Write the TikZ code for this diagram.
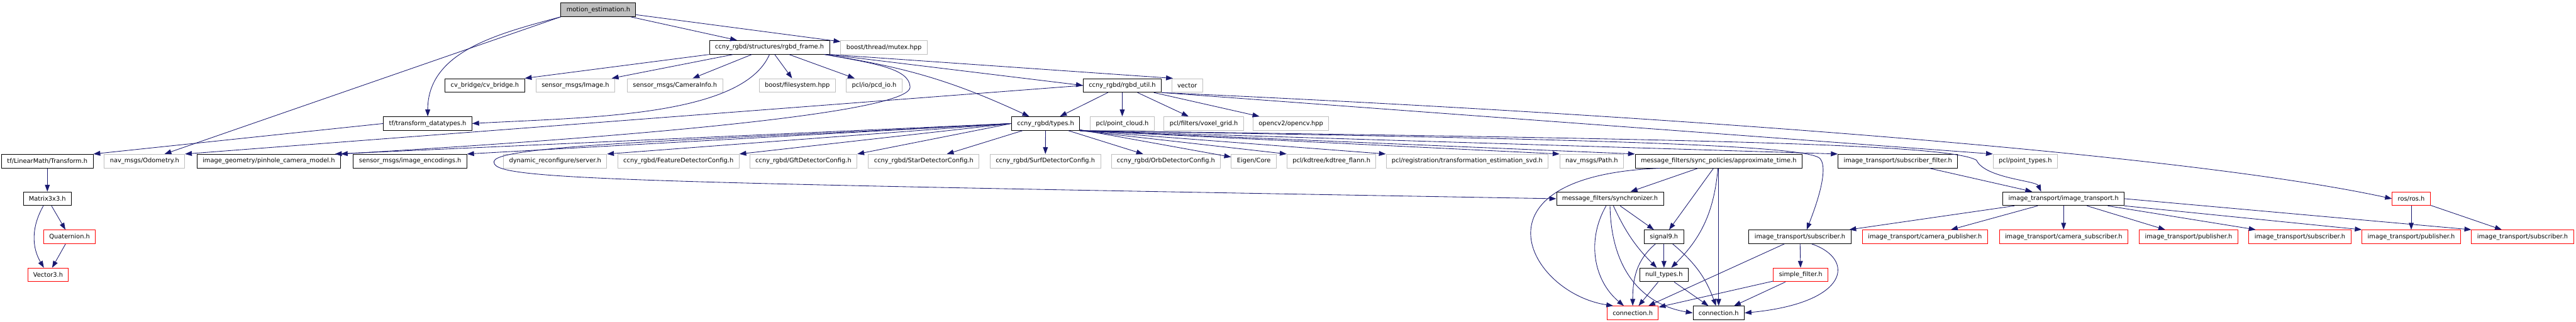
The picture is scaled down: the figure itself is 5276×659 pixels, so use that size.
\documentclass[tikz,border=0pt]{standalone}
\usepackage{fontspec}
\setmainfont{DejaVu Sans}
\usetikzlibrary{arrows.meta}
\definecolor{edgeblue}{HTML}{191970}
\definecolor{rootgray}{HTML}{BFBFBF}
\definecolor{extgray}{HTML}{BFBFBF}
\definecolor{cutred}{HTML}{FF0000}

\begin{document}
\begin{tikzpicture}[
  x=1pt, y=1pt,
  >={Triangle[length=14pt, width=10pt]},
  every node/.style={font=\fontsize{12.7pt}{15pt}\selectfont},
  % Node styles
  file/.style     = {rectangle, line width=1.2pt, minimum height=28pt,
                     inner xsep=11.5pt, inner ysep=0pt},
  rootfile/.style = {file, draw=black, fill=rootgray},
  docfile/.style  = {file, draw=black},
  extfile/.style  = {file, draw=extgray},
  cutfile/.style  = {file, draw=cutred},
  % Arrow style
  dep/.style      = {->, line width=1.1pt, edgeblue}
]
\fill[white] (0,0) rectangle (5276,-659);
\useasboundingbox (0,0) rectangle (5276,-659);

% =========================== ROOT AND FIRST LEVELS ===========================
\node[rootfile] (Me)       at (1225.5, -20) {motion\_estimation.h};

\node[docfile]  (Frame)    at (1576,   -97) {ccny\_rgbd/structures/rgbd\_frame.h};
\node[extfile]  (Mutex)    at (1810.5, -97) {boost/thread/mutex.hpp};

\node[docfile]  (CvBridge) at (993,   -175) {cv\_bridge/cv\_bridge.h};
\node[extfile]  (Image)    at (1178.5,-175) {sensor\_msgs/Image.h};
\node[extfile]  (CamInfo)  at (1382.5,-175) {sensor\_msgs/CameraInfo.h};
\node[extfile]  (FileSys)  at (1633,  -175) {boost/filesystem.hpp};
\node[extfile]  (PcdIo)    at (1790.5,-175) {pcl/io/pcd\_io.h};
\node[docfile]  (Util)     at (2298.5,-175) {ccny\_rgbd/rgbd\_util.h};
\node[extfile]  (Vector)   at (2431.5,-175) {vector};

\node[docfile]  (TfData)   at (876,   -253) {tf/transform\_datatypes.h};
\node[docfile]  (Types)    at (2141.5,-253) {ccny\_rgbd/types.h};
\node[extfile]  (PCloud)   at (2298.5,-253) {pcl/point\_cloud.h};
\node[extfile]  (Voxel)    at (2465.5,-253) {pcl/filters/voxel\_grid.h};
\node[extfile]  (OpenCV)   at (2644,  -253) {opencv2/opencv.hpp};

% =========================== WIDE ROW ===========================
\node[docfile]  (Transform) at (97,    -330) {tf/LinearMath/Transform.h};
\node[extfile]  (Odom)      at (296,   -330) {nav\_msgs/Odometry.h};
\node[docfile]  (Pinhole)   at (550.5, -330) {image\_geometry/pinhole\_camera\_model.h};
\node[docfile]  (Enc)       at (840,   -330) {sensor\_msgs/image\_encodings.h};
\node[extfile]  (DynSrv)    at (1137,  -330) {dynamic\_reconfigure/server.h};
\node[extfile]  (FeatCfg)   at (1389.5,-330) {ccny\_rgbd/FeatureDetectorConfig.h};
\node[extfile]  (GftCfg)    at (1645.5,-330) {ccny\_rgbd/GftDetectorConfig.h};
\node[extfile]  (StarCfg)   at (1892,  -330) {ccny\_rgbd/StarDetectorConfig.h};
\node[extfile]  (SurfCfg)   at (2141,  -330) {ccny\_rgbd/SurfDetectorConfig.h};
\node[extfile]  (OrbCfg)    at (2388,  -330) {ccny\_rgbd/OrbDetectorConfig.h};
\node[extfile]  (Eigen)     at (2568,  -330) {Eigen/Core};
\node[extfile]  (KdTree)    at (2727,  -330) {pcl/kdtree/kdtree\_flann.h};
\node[extfile]  (Svd)       at (3005,  -330) {pcl/registration/transformation\_estimation\_svd.h};
\node[extfile]  (Path)      at (3260,  -330) {nav\_msgs/Path.h};
\node[docfile]  (Approx)    at (3520,  -330) {message\_filters/sync\_policies/approximate\_time.h};
\node[docfile]  (SubFilter) at (3887,  -330) {image\_transport/subscriber\_filter.h};
\node[extfile]  (PTypes)    at (4148,  -330) {pcl/point\_types.h};

% =========================== LOWER LEVELS ===========================
\node[docfile]  (Matrix)  at (97,    -407) {Matrix3x3.h};
\node[docfile]  (Sync)    at (3297.5,-407) {message\_filters/synchronizer.h};
\node[docfile]  (ImgTr)   at (4226.5,-407) {image\_transport/image\_transport.h};
\node[cutfile]  (Ros)     at (4938.5,-407) {ros/ros.h};

\node[cutfile]  (Quat)    at (142.5, -485) {Quaternion.h};
\node[docfile]  (Signal)  at (3408,  -485) {signal9.h};
\node[docfile]  (ItSub)   at (3686.5,-485) {image\_transport/subscriber.h};
\node[cutfile]  (CamPub)  at (3942.5,-485) {image\_transport/camera\_publisher.h};
\node[cutfile]  (CamSub)  at (4226.5,-485) {image\_transport/camera\_subscriber.h};
\node[cutfile]  (PubA)    at (4482.5,-485) {image\_transport/publisher.h};
\node[cutfile]  (SubA)    at (4710.5,-485) {image\_transport/subscriber.h};
\node[cutfile]  (PubB)    at (4938.5,-485) {image\_transport/publisher.h};
\node[cutfile]  (SubB)    at (5166.5,-485) {image\_transport/subscriber.h};

\node[cutfile]  (Vec3)    at (98.5,  -563) {Vector3.h};
\node[docfile]  (NullT)   at (3408,  -563) {null\_types.h};
\node[cutfile]  (SFilter) at (3688,  -563) {simple\_filter.h};

\node[cutfile]  (ConnR)   at (3344,  -641) {connection.h};
\node[docfile]  (ConnB)   at (3520,  -641) {connection.h};

% bend points of the long detours
\coordinate (LoopVia)  at (1864,-178);
\coordinate (SyncVia)  at (1012,-330);
\coordinate (ItSubVia) at (3728,-325);
\coordinate (ImgTrVia) at (4048,-328);

% =========================== EDGES FROM THE ROOT ===========================
\draw[dep] (Me) -- (Frame);
\draw[dep] (Me) -- (Mutex);
\draw[dep] (Me.south west) to[out=195, in=90] (TfData.north);
\draw[dep] (Me.south west) -- ([xshift=41pt]Odom.north);

% =========================== rgbd_frame.h ===========================
\draw[dep] (Frame.south west) -- (CvBridge.north east);
\draw[dep] (Frame) -- (Image);
\draw[dep] (Frame) -- (CamInfo);
\draw[dep] (Frame) -- (FileSys);
\draw[dep] (Frame) -- (PcdIo);
\draw[dep] (Frame) -- (Util.west);
\draw[dep] (Frame) to[bend left=8] (Types);
\draw[dep] (Frame.south east) -- ([xshift=3pt]Vector.north west);
\draw[dep] (Frame.south) .. controls (1520,-240) and (1200,-240) .. (TfData.east);
\draw[dep] ([xshift=-10pt]Frame.south east) .. controls (1790,-130) and (1862,-140) .. (LoopVia)
           .. controls (1866,-220) and (1500,-268) .. (Pinhole.north east);

% =========================== rgbd_util.h ===========================
\draw[dep] (Util) -- (Types);
\draw[dep] (Util) -- (PCloud);
\draw[dep] (Util) -- (Voxel);
\draw[dep] (Util) -- (OpenCV);
\draw[dep] (Util.west) -- (Odom.north east);
\draw[dep] (Util.south east) .. controls (3500,-240) and (4500,-320) .. (Ros.west);
\draw[dep] (Util.south east) -- (PTypes.north west);

% =========================== types.h ===========================
\draw[dep] (Types.west) -- ([xshift=-12pt]Pinhole.north east);
\draw[dep] (Types.west) -- (Enc.north east);
\draw[dep] (Types.west) -- (DynSrv.north east);
\draw[dep] (Types.west) -- (FeatCfg.north east);
\draw[dep] (Types.west) -- (GftCfg.north east);
\draw[dep] (Types) -- (StarCfg);
\draw[dep] (Types) -- (SurfCfg);
\draw[dep] (Types) -- (OrbCfg);
\draw[dep] (Types) -- (Eigen);
\draw[dep] (Types.south east) -- (KdTree.north west);
\draw[dep] (Types.south east) -- (Svd.north west);
\draw[dep] (Types.south east) -- (Path.north west);
\draw[dep] (Types.south east) -- (Approx.north west);
\draw[dep] (Types.south east) -- (SubFilter.north west);
\draw[dep] (Types.west) .. controls (1500,-285) and (1022,-295) .. (SyncVia)
           .. controls (1004,-368) and (1200,-372) .. (Sync.west);
\draw[dep] (Types.south east) .. controls (3300,-285) and (3705,-298) .. (ItSubVia)
           .. controls (3748,-350) and (3712,-440) .. ([xshift=14pt]ItSub.north);
\draw[dep] (Types.south east) .. controls (3500,-285) and (3990,-295) .. (ImgTrVia)
           .. controls (4065,-365) and (4170,-370) .. ([xshift=-46pt]ImgTr.north);

% =========================== tf branch ===========================
\draw[dep] (TfData.west) -- (Transform.north east);
\draw[dep] (Transform) -- (Matrix);
\draw[dep] (Matrix) -- (Quat);
\draw[dep] (Matrix) to[bend right=30] (Vec3);
\draw[dep] (Quat) -- (Vec3);

% =========================== message_filters ===========================
\draw[dep] (Approx) -- (Sync);
\draw[dep] (Approx) -- (Signal);
\draw[dep] (Approx) to[bend left=20] (NullT);
\draw[dep] (Approx) -- (ConnB);
\draw[dep] ([xshift=-120pt]Approx.south) .. controls (3000,-360) and (3130,-600) .. ([xshift=-40pt]ConnR.north);

\draw[dep] (Sync) -- (Signal);
\draw[dep] (Sync) to[bend right=10] (NullT);
\draw[dep] (Sync) to[bend right=40] (ConnR);
\draw[dep] (Sync.south) .. controls (3300,-560) and (3370,-625) .. (ConnB.west);

\draw[dep] (Signal) -- (NullT);
\draw[dep] (Signal) to[out=220, in=90] (ConnR);
\draw[dep] (Signal) to[bend left=15] (ConnB);

\draw[dep] (NullT) -- (ConnR);
\draw[dep] (NullT) -- (ConnB);

% =========================== image_transport ===========================
\draw[dep] (SubFilter) -- (ImgTr);

\draw[dep] (ItSub) -- (SFilter);
\draw[dep] (ItSub) -- (ConnR);
\draw[dep] ([xshift=24pt]ItSub.south) .. controls (3800,-530) and (3790,-620) .. (ConnB.east);
\draw[dep] (SFilter) -- (ConnR);
\draw[dep] (SFilter) -- (ConnB);

\draw[dep] (ImgTr) -- (ItSub);
\draw[dep] (ImgTr) -- (CamPub);
\draw[dep] (ImgTr) -- (CamSub);
\draw[dep] (ImgTr) -- (PubA);
\draw[dep] (ImgTr) -- (SubA);
\draw[dep] (ImgTr.south east) -- (PubB.north west);
\draw[dep] (ImgTr.east) -- (SubB.north west);

\draw[dep] (Ros) -- (PubB);
\draw[dep] (Ros) -- (SubB);

\end{tikzpicture}
\end{document}
